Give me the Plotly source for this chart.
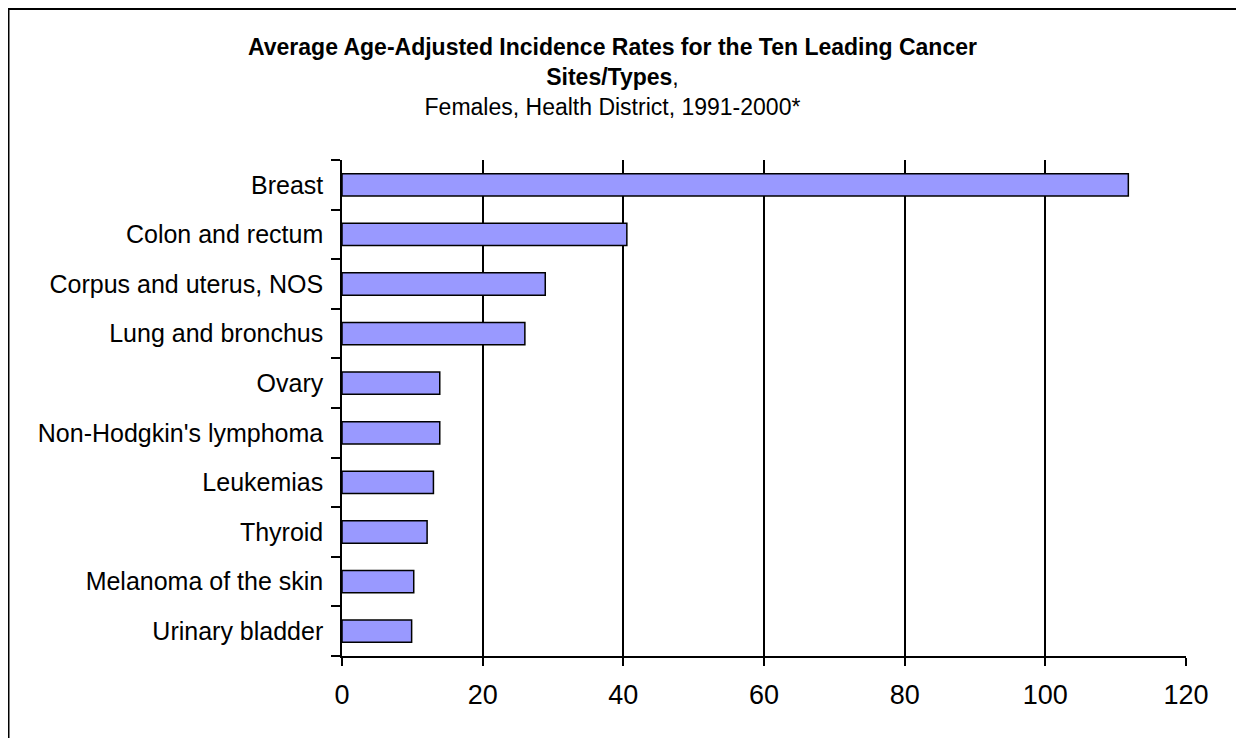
import plotly.graph_objects as go

categories = ["Breast", "Colon and rectum", "Corpus and uterus, NOS", "Lung and bronchus",
              "Ovary", "Non-Hodgkin's lymphoma", "Leukemias", "Thyroid",
              "Melanoma of the skin", "Urinary bladder"]
rates = [111.8, 40.5, 28.9, 26.0, 13.9, 13.9, 13.0, 12.1, 10.2, 9.9]
x_ticks = [0, 20, 40, 60, 80, 100, 120]

W, H = 1236, 730
L, R, T, B = 334, 58, 152, 82
pw, ph = W - L - R, H - T - B

fig = go.Figure(go.Bar(
    y=categories, x=rates, orientation="h",
    marker=dict(color="#9999FF", line=dict(color="black", width=1.5)),
))

def px2paper_x(px):
    return (px - L) / pw

def px2paper_y(py):
    return (H - B - py) / ph

title_text = ("<b>Average Age-Adjusted Incidence Rates for the Ten Leading Cancer<br>"
              "Sites/Types</b>,<br>Females, Health District, 1991-2000*")

fig.update_layout(
    width=W, height=H,
    margin=dict(l=L, r=R, t=T, b=B),
    paper_bgcolor="white", plot_bgcolor="white",
    bargap=0.55,
    showlegend=False,
    font=dict(family="Liberation Sans, Arial, sans-serif", color="black"),
    xaxis=dict(range=[0, 120], tickvals=x_ticks, showgrid=True, gridcolor="black", gridwidth=1.5,
               showline=True, linecolor="black", linewidth=1.5, ticks="outside", ticklen=8,
               tickwidth=1.5, tickcolor="black", tickfont=dict(size=27), ticklabelstandoff=6,
               zeroline=False, fixedrange=True),
    yaxis=dict(categoryorder="array", categoryarray=categories[::-1], tickson="boundaries",
               showline=True, linecolor="black", linewidth=1.5, ticks="outside", ticklen=9,
               tickwidth=1.5, tickcolor="black", tickfont=dict(size=25), ticklabelstandoff=12,
               showgrid=False, fixedrange=True),
    annotations=[dict(
        xref="paper", yref="paper", x=px2paper_x(604), y=px2paper_y(69),
        xanchor="center", yanchor="middle", showarrow=False, align="center",
        text=title_text, font=dict(size=23, color="black"),
    )],
    shapes=[
        dict(type="line", xref="paper", yref="paper", x0=px2paper_x(0), x1=px2paper_x(1300),
             y0=px2paper_y(1), y1=px2paper_y(1), line=dict(color="black", width=2)),
        dict(type="line", xref="paper", yref="paper", x0=px2paper_x(0.5), x1=px2paper_x(0.5),
             y0=px2paper_y(0), y1=px2paper_y(800), line=dict(color="black", width=2)),
    ],
)

fig.write_html("out.html")
